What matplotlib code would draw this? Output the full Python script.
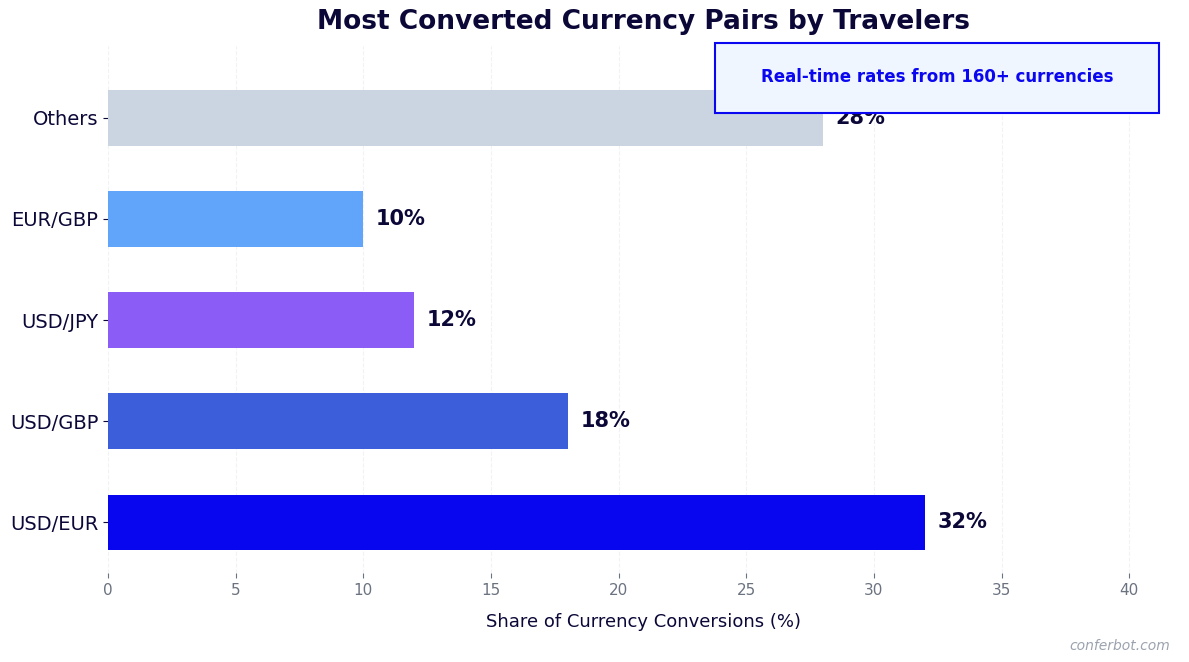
import matplotlib
matplotlib.use("Agg")
import matplotlib.pyplot as plt
from matplotlib.patches import Rectangle

pairs = ["USD/EUR", "USD/GBP", "USD/JPY", "EUR/GBP", "Others"]
shares = [32, 18, 12, 10, 28]
colors = ["#0806EF", "#3D5EDB", "#8B5CF6", "#60A5FA", "#CBD5E1"]

navy = "#0B0838"

fig = plt.figure(figsize=(11.89, 6.62), dpi=100)
ax = fig.add_axes([108 / 1189, 1 - 573 / 662, (1170 - 108) / 1189, (573 - 46) / 662])

bars = ax.barh(pairs, shares, height=0.55, color=colors, zorder=3)
for bar, val in zip(bars, shares):
    ax.text(val + 0.5, bar.get_y() + bar.get_height() / 2, f"{val}%",
            va="center", ha="left", fontsize=15, fontweight="bold", color=navy, zorder=4)

ax.set_xlim(0, 41.6)
ax.set_ylim(-0.5, 4.71)
ax.set_xticks(range(0, 45, 5))
for s in ax.spines.values():
    s.set_visible(False)
ax.grid(axis="x", linestyle="--", color="#e5e7eb", alpha=0.5, zorder=0)
ax.tick_params(axis="x", colors="#6B7280", labelsize=11)
ax.tick_params(axis="y", labelsize=14, labelcolor=navy, color=navy)
ax.set_xlabel("Share of Currency Conversions (%)", fontsize=13, color=navy, labelpad=11)
ax.xaxis.set_label_coords((644 - 108) / 1062, -0.0755)

fig.text(644 / 1189, 1 - 22 / 662, "Most Converted Currency Pairs by Travelers",
         ha="center", va="center", fontsize=19, fontweight="bold", color=navy)

# info box in the top right corner
fig.patches.append(Rectangle((715 / 1189, 1 - 113 / 662), 444 / 1189, 70 / 662,
                             transform=fig.transFigure, facecolor="#EFF6FF",
                             edgecolor="#0A06EF", linewidth=1.5, zorder=5))
fig.text(937 / 1189, 1 - 77 / 662, "Real-time rates from 160+ currencies",
         ha="center", va="center", fontsize=12, fontweight="bold", color="#0A06EF", zorder=6)

fig.text(1170 / 1189, 1 - 646 / 662, "conferbot.com", ha="right", va="center",
         fontsize=10, style="italic", color="#9CA3AF")

fig.savefig("out.png", dpi=100)
